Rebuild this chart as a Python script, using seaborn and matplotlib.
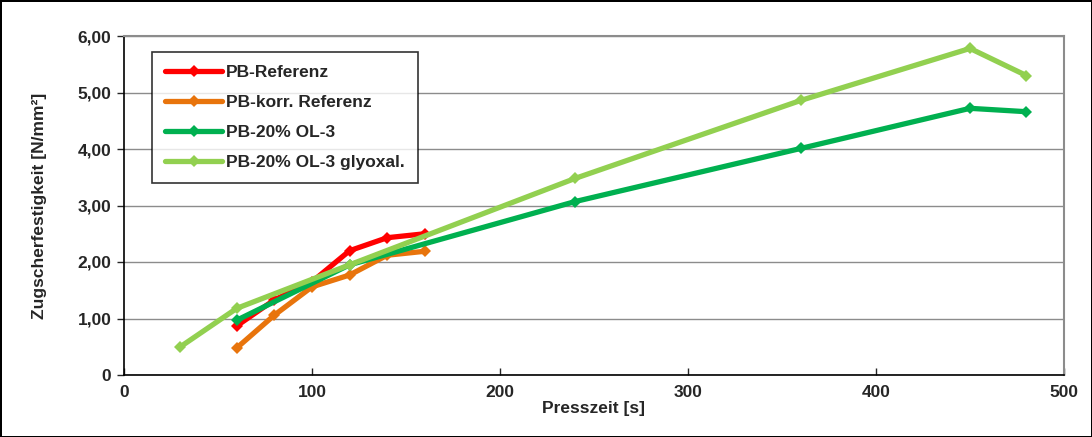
import pandas as pd
import matplotlib
matplotlib.use("Agg")
import matplotlib.pyplot as plt
import seaborn as sns
from matplotlib.ticker import FuncFormatter, MultipleLocator

series_names = ["PB-Referenz", "PB-korr. Referenz", "PB-20% OL-3", "PB-20% OL-3 glyoxal."]

ref_time = [60, 80, 100, 120, 140, 160]
ref_strength = [0.87, 1.33, 1.65, 2.20, 2.43, 2.50]

korr_time = [60, 80, 100, 120, 140, 160]
korr_strength = [0.48, 1.06, 1.56, 1.77, 2.12, 2.19]

ol3_time = [60, 120, 240, 360, 450, 480]
ol3_strength = [0.97, 1.95, 3.07, 4.01, 4.72, 4.66]

gly_time = [30, 60, 120, 240, 360, 450, 480]
gly_strength = [0.50, 1.18, 1.95, 3.48, 4.86, 5.78, 5.30]

colors = ["#FF0000", "#E8740C", "#00B050", "#92D050"]

# Build one long-form table for seaborn
frames = []
for name, t, s in zip(
    series_names,
    [ref_time, korr_time, ol3_time, gly_time],
    [ref_strength, korr_strength, ol3_strength, gly_strength],
):
    frames.append(pd.DataFrame({"time": t, "strength": s, "series": name}))
df = pd.concat(frames, ignore_index=True)

sns.set_style("white")
plt.rcParams["font.family"] = ["Liberation Sans", "DejaVu Sans"]
plt.rcParams["font.weight"] = "bold"

fig = plt.figure(figsize=(10.92, 4.37), dpi=100)
fig.patch.set_edgecolor("black")
fig.patch.set_linewidth(2)
ax = fig.add_axes([124 / 1092, 1 - 375 / 437, 940 / 1092, 339 / 437])

sns.lineplot(
    data=df,
    x="time",
    y="strength",
    hue="series",
    style="series",
    palette=dict(zip(series_names, colors)),
    markers=["D"] * 4,
    dashes=False,
    markersize=6,
    markeredgewidth=0,
    linewidth=3.8,
    sort=False,
    ax=ax,
)

ax.set_xlim(0, 500)
ax.set_ylim(0, 6)
ax.xaxis.set_major_locator(MultipleLocator(100))
ax.yaxis.set_major_locator(MultipleLocator(1))
ax.yaxis.set_major_formatter(
    FuncFormatter(lambda v, p: "0" if v == 0 else f"{v:.2f}".replace(".", ","))
)
ax.grid(axis="y", color="#8C8C8C", linewidth=1)
ax.set_axisbelow(True)

for side in ["top", "right"]:
    ax.spines[side].set_color("#8C8C8C")
    ax.spines[side].set_linewidth(1.5)
for side in ["left", "bottom"]:
    ax.spines[side].set_color("black")
    ax.spines[side].set_linewidth(1.2)

ax.tick_params(axis="y", direction="out", length=5, width=1, labelsize=12.5, pad=4)
ax.tick_params(axis="x", direction="in", length=5, width=1, labelsize=12.5, pad=7)
ax.tick_params(left=True, bottom=True)
for lbl in ax.get_xticklabels() + ax.get_yticklabels():
    lbl.set_fontweight("bold")

ax.set_xlabel("Presszeit [s]", fontsize=12.5, fontweight="bold", labelpad=1)
ax.set_ylabel("Zugscherfestigkeit [N/mm²]", fontsize=12.5, fontweight="bold", labelpad=22)

leg = ax.legend(
    loc="upper left",
    bbox_to_anchor=(28 / 940, 1 - 16 / 339),
    frameon=True,
    fancybox=False,
    edgecolor="black",
    prop={"weight": "bold", "size": 12.5},
    handlelength=3.3,
    labelspacing=0.85,
    borderpad=0.75,
    handletextpad=0.2,
    borderaxespad=0,
)
leg.get_frame().set_linewidth(1.2)

fig.savefig("out.png", dpi=100, edgecolor=fig.get_edgecolor())
